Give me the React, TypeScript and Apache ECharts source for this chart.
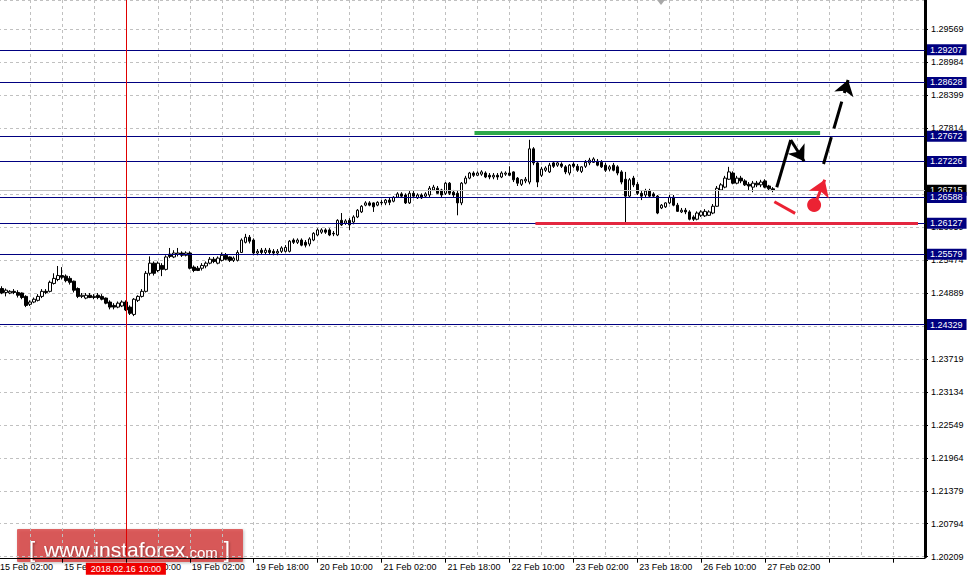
import React, { useEffect, useRef } from "react";
import * as echarts from "echarts";

// X axis tick labels, one every 16 hourly bars
const tickLabels = [
  "15 Feb 02:00", "15 Feb 18:00", "16 Feb 10:00", "19 Feb 02:00", "19 Feb 18:00",
  "20 Feb 10:00", "21 Feb 02:00", "21 Feb 18:00", "22 Feb 10:00", "23 Feb 02:00",
  "23 Feb 18:00", "26 Feb 10:00", "27 Feb 02:00",
];
const slotCount = 233;
const labelEvery = 16;
const gridEvery = 8;

// Hourly candles: [open, close, low, high]
const candles: number[][] = [
  [1.2499,1.2492,1.2489,1.2503],[1.2497,1.2489,1.2487,1.2501],[1.2490,1.2494,1.2483,1.2497],[1.2489,1.2492,1.2487,1.2494],
  [1.2492,1.2490,1.2487,1.2496],[1.2490,1.2485,1.2481,1.2494],[1.2489,1.2481,1.2478,1.2490],[1.2483,1.2467,1.2464,1.2485],
  [1.2469,1.2473,1.2466,1.2476],[1.2473,1.2478,1.2471,1.2481],[1.2476,1.2483,1.2474,1.2487],[1.2483,1.2492,1.2480,1.2496],
  [1.2492,1.2490,1.2487,1.2496],[1.2492,1.2508,1.2490,1.2511],[1.2506,1.2515,1.2504,1.2524],[1.2513,1.2520,1.2510,1.2537],
  [1.2520,1.2517,1.2513,1.2535],[1.2519,1.2511,1.2508,1.2522],[1.2515,1.2508,1.2504,1.2519],[1.2510,1.2494,1.2490,1.2511],
  [1.2497,1.2483,1.2480,1.2499],[1.2483,1.2485,1.2480,1.2489],[1.2480,1.2485,1.2478,1.2489],[1.2485,1.2481,1.2480,1.2489],
  [1.2481,1.2483,1.2478,1.2487],[1.2485,1.2481,1.2478,1.2489],[1.2483,1.2478,1.2476,1.2487],[1.2480,1.2471,1.2469,1.2481],
  [1.2473,1.2464,1.2460,1.2476],[1.2467,1.2464,1.2460,1.2471],[1.2464,1.2471,1.2462,1.2474],[1.2466,1.2473,1.2464,1.2476],
  [1.2473,1.2459,1.2457,1.2476],[1.2464,1.2453,1.2450,1.2467],[1.2451,1.2478,1.2448,1.2480],[1.2476,1.2483,1.2473,1.2485],
  [1.2483,1.2492,1.2481,1.2496],[1.2492,1.2524,1.2490,1.2528],[1.2524,1.2542,1.2520,1.2554],[1.2542,1.2524,1.2520,1.2545],
  [1.2529,1.2542,1.2526,1.2545],[1.2538,1.2531,1.2519,1.2542],[1.2531,1.2553,1.2529,1.2556],[1.2558,1.2554,1.2551,1.2569],
  [1.2553,1.2560,1.2551,1.2565],[1.2558,1.2560,1.2554,1.2569],[1.2560,1.2556,1.2553,1.2563],[1.2556,1.2560,1.2554,1.2563],
  [1.2560,1.2533,1.2531,1.2563],[1.2535,1.2529,1.2526,1.2538],[1.2533,1.2529,1.2528,1.2537],[1.2533,1.2538,1.2529,1.2542],
  [1.2537,1.2542,1.2533,1.2545],[1.2542,1.2549,1.2540,1.2553],[1.2549,1.2545,1.2542,1.2553],[1.2542,1.2551,1.2540,1.2554],
  [1.2547,1.2556,1.2545,1.2561],[1.2556,1.2549,1.2547,1.2560],[1.2553,1.2547,1.2544,1.2554],[1.2547,1.2551,1.2544,1.2554],
  [1.2547,1.2561,1.2545,1.2565],[1.2561,1.2583,1.2560,1.2586],[1.2579,1.2588,1.2577,1.2594],[1.2588,1.2581,1.2577,1.2592],
  [1.2583,1.2560,1.2556,1.2586],[1.2560,1.2563,1.2556,1.2567],[1.2565,1.2561,1.2558,1.2569],[1.2561,1.2565,1.2558,1.2569],
  [1.2565,1.2561,1.2558,1.2569],[1.2563,1.2560,1.2556,1.2567],[1.2560,1.2563,1.2556,1.2567],[1.2563,1.2569,1.2560,1.2572],
  [1.2563,1.2570,1.2561,1.2574],[1.2563,1.2581,1.2561,1.2583],[1.2583,1.2579,1.2576,1.2586],[1.2579,1.2583,1.2576,1.2586],
  [1.2583,1.2574,1.2572,1.2586],[1.2579,1.2574,1.2570,1.2583],[1.2576,1.2585,1.2572,1.2588],[1.2583,1.2595,1.2581,1.2597],
  [1.2592,1.2601,1.2590,1.2604],[1.2597,1.2601,1.2594,1.2604],[1.2601,1.2597,1.2594,1.2604],[1.2601,1.2592,1.2590,1.2604],
  [1.2595,1.2594,1.2590,1.2599],[1.2592,1.2618,1.2590,1.2620],[1.2618,1.2610,1.2608,1.2631],[1.2613,1.2617,1.2610,1.2620],
  [1.2618,1.2610,1.2601,1.2622],[1.2615,1.2624,1.2611,1.2627],[1.2624,1.2636,1.2622,1.2638],[1.2633,1.2643,1.2631,1.2645],
  [1.2645,1.2649,1.2643,1.2652],[1.2649,1.2645,1.2643,1.2652],[1.2649,1.2642,1.2633,1.2650],[1.2645,1.2650,1.2643,1.2652],
  [1.2650,1.2649,1.2645,1.2654],[1.2649,1.2654,1.2645,1.2656],[1.2654,1.2650,1.2645,1.2658],[1.2652,1.2659,1.2650,1.2661],
  [1.2659,1.2665,1.2658,1.2668],[1.2665,1.2661,1.2658,1.2668],[1.2663,1.2649,1.2647,1.2666],[1.2649,1.2666,1.2647,1.2670],
  [1.2666,1.2661,1.2658,1.2670],[1.2658,1.2663,1.2656,1.2666],[1.2663,1.2658,1.2656,1.2666],[1.2661,1.2665,1.2658,1.2668],
  [1.2663,1.2675,1.2659,1.2679],[1.2672,1.2677,1.2670,1.2681],[1.2675,1.2666,1.2665,1.2679],[1.2672,1.2663,1.2659,1.2674],
  [1.2666,1.2684,1.2663,1.2686],[1.2684,1.2666,1.2663,1.2686],[1.2668,1.2663,1.2659,1.2672],[1.2666,1.2649,1.2627,1.2670],
  [1.2649,1.2684,1.2645,1.2686],[1.2684,1.2693,1.2682,1.2697],[1.2693,1.2702,1.2691,1.2704],[1.2702,1.2698,1.2695,1.2705],
  [1.2698,1.2702,1.2697,1.2705],[1.2700,1.2704,1.2697,1.2707],[1.2702,1.2695,1.2693,1.2705],[1.2698,1.2695,1.2691,1.2702],
  [1.2695,1.2698,1.2691,1.2702],[1.2698,1.2695,1.2690,1.2702],[1.2695,1.2702,1.2693,1.2705],[1.2700,1.2702,1.2697,1.2705],
  [1.2702,1.2698,1.2697,1.2714],[1.2704,1.2690,1.2686,1.2705],[1.2693,1.2684,1.2679,1.2695],[1.2682,1.2690,1.2679,1.2691],
  [1.2688,1.2691,1.2684,1.2695],[1.2686,1.2745,1.2682,1.2761],[1.2745,1.2720,1.2716,1.2748],[1.2720,1.2686,1.2677,1.2723],
  [1.2698,1.2709,1.2695,1.2713],[1.2707,1.2711,1.2704,1.2714],[1.2704,1.2716,1.2702,1.2720],[1.2720,1.2714,1.2711,1.2723],
  [1.2716,1.2720,1.2713,1.2723],[1.2718,1.2714,1.2711,1.2721],[1.2713,1.2704,1.2700,1.2716],[1.2702,1.2716,1.2698,1.2718],
  [1.2718,1.2714,1.2711,1.2721],[1.2714,1.2707,1.2704,1.2718],[1.2705,1.2713,1.2702,1.2714],[1.2714,1.2721,1.2711,1.2725],
  [1.2720,1.2725,1.2716,1.2729],[1.2721,1.2727,1.2720,1.2730],[1.2723,1.2716,1.2714,1.2727],[1.2721,1.2713,1.2711,1.2725],
  [1.2716,1.2707,1.2704,1.2720],[1.2709,1.2713,1.2705,1.2716],[1.2716,1.2707,1.2705,1.2720],[1.2713,1.2702,1.2698,1.2716],
  [1.2704,1.2686,1.2682,1.2707],[1.2691,1.2661,1.2615,1.2704],[1.2661,1.2690,1.2658,1.2693],[1.2693,1.2681,1.2677,1.2697],
  [1.2682,1.2666,1.2663,1.2686],[1.2666,1.2661,1.2654,1.2670],[1.2663,1.2670,1.2659,1.2674],[1.2670,1.2661,1.2658,1.2674],
  [1.2665,1.2661,1.2658,1.2668],[1.2661,1.2631,1.2629,1.2663],[1.2640,1.2645,1.2638,1.2647],[1.2642,1.2649,1.2640,1.2650],
  [1.2649,1.2659,1.2647,1.2663],[1.2659,1.2645,1.2643,1.2663],[1.2645,1.2634,1.2633,1.2649],[1.2633,1.2636,1.2631,1.2640],
  [1.2636,1.2633,1.2629,1.2640],[1.2633,1.2620,1.2618,1.2636],[1.2624,1.2620,1.2617,1.2627],[1.2620,1.2631,1.2618,1.2634],
  [1.2627,1.2633,1.2624,1.2636],[1.2626,1.2634,1.2624,1.2638],[1.2627,1.2633,1.2626,1.2636],[1.2631,1.2643,1.2629,1.2647],
  [1.2643,1.2675,1.2642,1.2679],[1.2672,1.2681,1.2670,1.2684],[1.2677,1.2693,1.2675,1.2697],[1.2691,1.2704,1.2690,1.2713],
  [1.2702,1.2684,1.2682,1.2705],[1.2684,1.2693,1.2682,1.2697],[1.2693,1.2688,1.2684,1.2697],[1.2688,1.2681,1.2679,1.2691],
  [1.2682,1.2679,1.2672,1.2686],[1.2677,1.2684,1.2668,1.2688],[1.2684,1.2681,1.2677,1.2688],[1.2681,1.2686,1.2677,1.2690],
  [1.2688,1.2677,1.2675,1.2691],[1.2679,1.2674,1.2670,1.2681],[1.2674,1.2672,1.2668,1.2677],
];

// Price axis
const yMin = 1.20209;
const yMax = 1.30092;
const yStep = 0.00585;

// Horizontal levels (navy) and current bid
const levels = [1.29207, 1.28628, 1.27672, 1.27226, 1.26588, 1.26127, 1.25579, 1.24329];
const bidPrice = 1.26715;

// Crosshair
const crossIndex = "32";
const crossLabel = "2018.02.16 10:00";

// Annotations: [bar position, price]
const resistanceLine = [[119.25, 1.2774], [205.75, 1.2774]];
const supportLine = [[134.5, 1.26127], [230.25, 1.26127]];
const upStroke = [[194.9, 1.26767], [198.4, 1.27607]];
const pullbackArrow = [[198.4, 1.27607], [201.75, 1.2723]];
const targetArrow = [[206.6, 1.2718], [212.75, 1.28672]];
const redStroke = [[194.3, 1.26511], [199.5, 1.26305]];
const redArrow = [[204.9, 1.26541], [206.9, 1.269]];
const redDot = [204.25, 1.26453];

const categories = Array.from({ length: slotCount }, (_, i) => String(i));

// The chart canvas starts 3px left of the page so that the first bar sits off-screen
const SHIFT = 3;

export default function App() {
  const ref = useRef<HTMLDivElement>(null);
  useEffect(() => {
    const chart = echarts.init(ref.current!, undefined, { renderer: "svg" });
    const font = "Liberation Sans";
    const navyLabel = {
      show: true,
      position: "end",
      distance: 2,
      formatter: (p: any) => Number(p.value).toFixed(5),
      backgroundColor: "#000080",
      color: "#ffffff",
      fontSize: 9,
      fontFamily: font,
      lineHeight: 10,
      padding: [1, 4, 0, 3],
    };
    const option: any = {
      animation: false,
      backgroundColor: "#ffffff",
      textStyle: { fontFamily: font },
      grid: { left: 0, right: 42, top: 0, bottom: 25.3 },
      xAxis: [
        {
          type: "category",
          data: categories,
          boundaryGap: false,
          offset: 2,
          axisLine: { show: true, onZero: false, lineStyle: { color: "#000", width: 1 } },
          axisTick: {
            show: true,
            length: 4,
            interval: (i: number) => i % labelEvery === 0,
            lineStyle: { color: "#000" },
          },
          axisLabel: {
            interval: (i: number) => i % labelEvery === 0 && i / labelEvery < tickLabels.length,
            formatter: (_v: string, i: number) => tickLabels[i / labelEvery] ?? "",
            align: "left",
            color: "#000",
            fontSize: 9,
            margin: 4,
            padding: [0, 0, 0, 2],
          },
          splitLine: {
            show: true,
            interval: (i: number) => i % gridEvery === 0,
            lineStyle: { color: "#c0c0c0", type: [3, 3], width: 1 },
          },
        },
        { type: "value", min: 0, max: slotCount - 1, show: false, axisLine: { onZero: false } },
      ],
      yAxis: {
        type: "value",
        position: "right",
        min: yMin,
        max: yMax,
        interval: yStep,
        scale: true,
        axisLine: { show: true, onZero: false, lineStyle: { color: "#000", width: 3 } },
        axisTick: { show: true, length: 3, lineStyle: { color: "#000" } },
        axisLabel: {
          formatter: (v: number) => v.toFixed(5),
          color: "#000",
          fontSize: 9,
          margin: 6,
          showMaxLabel: false,
        },
        splitLine: { show: true, lineStyle: { color: "#c0c0c0", type: [3, 3], width: 1 } },
      },
      graphic: [
        {
          type: "polygon",
          z: 100,
          shape: { points: [[657 + SHIFT, 0], [665 + SHIFT, 0], [661 + SHIFT, 5]] },
          style: { fill: "#a8a8a8" },
        },
        {
          type: "group",
          z: 100,
          x: SHIFT,
          children: [
            {
              type: "rect",
              shape: { x: 17, y: 529, width: 226, height: 33, r: 1 },
              style: {
                fill: "rgba(214, 44, 44, 0.72)",
                shadowBlur: 3,
                shadowColor: "rgba(0,0,0,0.35)",
                shadowOffsetX: 1,
                shadowOffsetY: 1,
              },
            },
            {
              type: "text",
              x: 29,
              y: 547,
              style: {
                text: "{b|[}{w|www.instaforex}{c|.com}{e|]}",
                verticalAlign: "middle",
                fill: "#ffffff",
                textShadowColor: "rgba(0,0,0,0.35)",
                textShadowBlur: 2,
                textShadowOffsetX: 1,
                textShadowOffsetY: 1,
                rich: {
                  b: { fontSize: 22, fontFamily: font, fill: "#fff", padding: [0, 9, 0, 0], lineHeight: 26, verticalAlign: "bottom" },
                  w: { fontSize: 21, fontFamily: font, fill: "#fff", lineHeight: 26, verticalAlign: "bottom" },
                  c: { fontSize: 15, fontFamily: font, fill: "#fff", lineHeight: 26, verticalAlign: "bottom" },
                  e: { fontSize: 22, fontFamily: font, fill: "#fff", padding: [0, 0, 0, 6], lineHeight: 26, verticalAlign: "bottom" },
                },
              },
            },
          ],
        },
      ],
      series: [
        {
          type: "candlestick",
          xAxisIndex: 0,
          yAxisIndex: 0,
          data: candles,
          barWidth: 3,
          itemStyle: {
            color: "#ffffff",
            color0: "#000000",
            borderColor: "#000000",
            borderColor0: "#000000",
            borderWidth: 1,
          },
          markLine: {
            silent: true,
            symbol: "none",
            precision: 5,
            animation: false,
            data: [
              {
                yAxis: bidPrice,
                lineStyle: { color: "#c0c0c0", width: 1, type: "solid" },
                label: { ...navyLabel, backgroundColor: "#000000" },
              },
              ...levels.map((v) => ({
                yAxis: v,
                lineStyle: { color: "#000080", width: 1, type: "solid" },
                label: navyLabel,
              })),
              {
                xAxis: crossIndex,
                lineStyle: { color: "#e00000", width: 1, type: "solid" },
                label: {
                  show: true,
                  position: "start",
                  distance: 6,
                  formatter: crossLabel,
                  backgroundColor: "#f00000",
                  color: "#ffffff",
                  fontSize: 9,
                  fontFamily: font,
                  lineHeight: 10,
                  padding: [1, 5, 1, 5],
                },
              },
            ],
          },
        },
        {
          type: "lines",
          coordinateSystem: "cartesian2d",
          xAxisIndex: 1,
          yAxisIndex: 0,
          symbol: "none",
          z: 5,
          lineStyle: { opacity: 1 },
          data: [
            { coords: resistanceLine, lineStyle: { color: "#2ca84a", width: 4, opacity: 1 } },
            { coords: supportLine, lineStyle: { color: "#e3263f", width: 3, opacity: 1 } },
            { coords: upStroke, lineStyle: { color: "#000000", width: 3, opacity: 1 } },
            { coords: redStroke, lineStyle: { color: "#ec2233", width: 3, opacity: 1 } },
          ],
        },
        {
          type: "lines",
          coordinateSystem: "cartesian2d",
          xAxisIndex: 1,
          yAxisIndex: 0,
          symbol: ["none", "arrow"],
          symbolSize: 15,
          z: 6,
          lineStyle: { opacity: 1, color: "#000000" },
          data: [
            { coords: pullbackArrow, lineStyle: { color: "#000000", width: 3, opacity: 1 } },
            { coords: targetArrow, lineStyle: { color: "#000000", width: 3, type: [28, 9], opacity: 1 } },
          ],
        },
        {
          type: "lines",
          coordinateSystem: "cartesian2d",
          xAxisIndex: 1,
          yAxisIndex: 0,
          symbol: ["none", "arrow"],
          symbolSize: 16,
          z: 6,
          lineStyle: { opacity: 1, color: "#ec2233" },
          data: [{ coords: redArrow, lineStyle: { color: "#ec2233", width: 3, opacity: 1 } }],
        },
        {
          type: "scatter",
          xAxisIndex: 1,
          yAxisIndex: 0,
          symbol: "circle",
          symbolSize: 14,
          z: 6,
          itemStyle: { color: "#ec2233", opacity: 1 },
          data: [redDot],
        },
      ],
    };
    chart.setOption(option);
    return () => chart.dispose();
  }, []);
  return (
    <div
      ref={ref}
      style={{ position: "fixed", left: -SHIFT, top: 0, width: 967 + SHIFT, height: 582, background: "#fff" }}
    />
  );
}
